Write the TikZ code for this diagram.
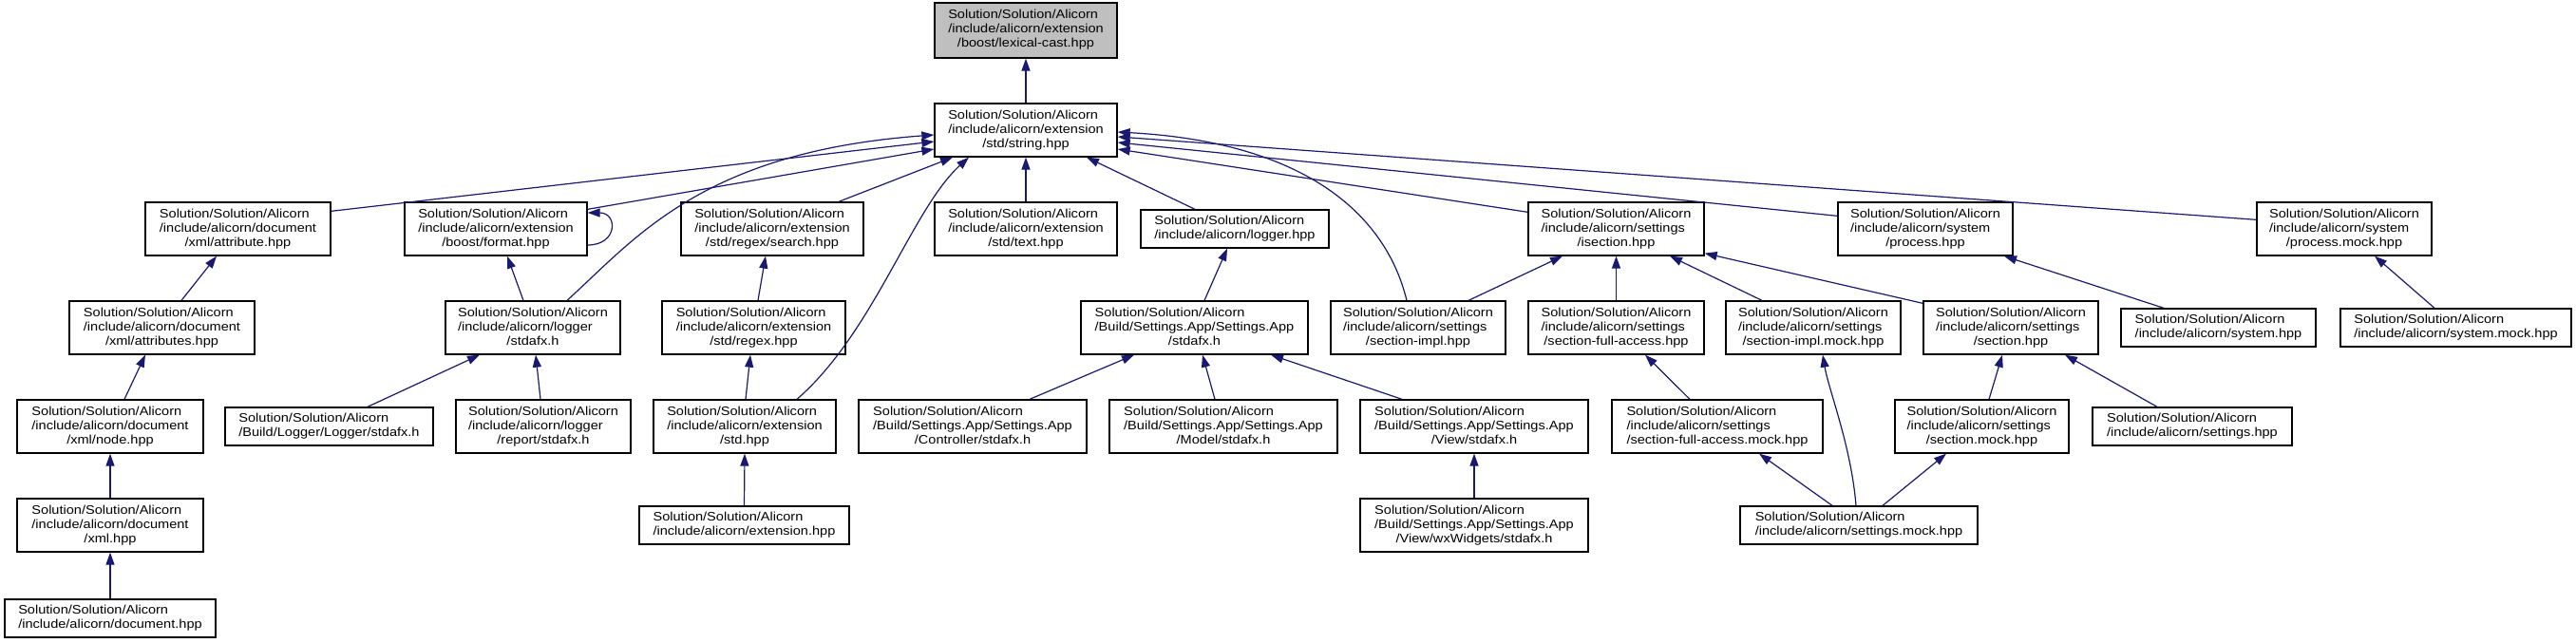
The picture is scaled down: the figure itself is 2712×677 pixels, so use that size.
\documentclass[tikz,border=0pt]{standalone}
\usepackage{fontspec}
\setmainfont{Liberation Sans}[FakeStretch=1.12]
\usetikzlibrary{arrows.meta,calc}
\definecolor{edgecol}{RGB}{25,25,112}
\definecolor{rootfill}{RGB}{191,191,191}
\newcommand\lblA[3]{\begin{tabular}{@{}l@{}}#1\\#2\\\multicolumn{1}{@{}c@{}}{#3}\end{tabular}}
\newcommand\lblB[2]{\begin{tabular}{@{}l@{}}#1\\\multicolumn{1}{@{}c@{}}{#2}\end{tabular}}
\tikzset{
  box/.style={draw=black, line width=1.3pt, fill=white, inner xsep=3pt, inner ysep=2pt, font=\fontsize{13}{15}\selectfont},
  three/.style={box, minimum height=56pt},
  two/.style={box, minimum height=40pt},
  dep/.style={draw=edgecol, line width=1.2pt, -{Triangle[length=13pt,width=9pt]}}
}
\def\SSA{Solution/Solution/Alicorn}
\begin{document}
\begin{tikzpicture}[x=1pt,y=-1pt]
\fill[white] (0,0) rectangle (2712,677);
\useasboundingbox (0,0) rectangle (2712,677);
% row 0 / 1
\node[three, fill=rootfill, minimum width=192pt, minimum height=58pt] (lex) at (1080,32) {\lblA{\SSA}{/include/alicorn/extension}{/boost/lexical-cast.hpp}};
\node[three, minimum width=192pt] (str) at (1080,137) {\lblA{\SSA}{/include/alicorn/extension}{/std/string.hpp}};
% row 2
\node[three, minimum width=195pt] (attr) at (250.5,241) {\lblA{\SSA}{/include/alicorn/document}{/xml/attribute.hpp}};
\node[three, minimum width=192pt] (fmt) at (522,241) {\lblA{\SSA}{/include/alicorn/extension}{/boost/format.hpp}};
\node[three, minimum width=192pt] (search) at (813,241) {\lblA{\SSA}{/include/alicorn/extension}{/std/regex/search.hpp}};
\node[three, minimum width=192pt] (text) at (1080,241) {\lblA{\SSA}{/include/alicorn/extension}{/std/text.hpp}};
\node[two, minimum width=198pt] (logger) at (1300,241) {\lblB{\SSA}{/include/alicorn/logger.hpp}};
\node[three, minimum width=185pt] (isec) at (1701.5,241) {\lblA{\SSA}{/include/alicorn/settings}{/isection.hpp}};
\node[three, minimum width=184pt] (proc) at (2027,241) {\lblA{\SSA}{/include/alicorn/system}{/process.hpp}};
\node[three, minimum width=184pt] (procm) at (2468,241) {\lblA{\SSA}{/include/alicorn/system}{/process.mock.hpp}};
% row 3
\node[three, minimum width=195pt] (attrs) at (170.5,345) {\lblA{\SSA}{/include/alicorn/document}{/xml/attributes.hpp}};
\node[three, minimum width=184pt] (lstd) at (561,345) {\lblA{\SSA}{/include/alicorn/logger}{/stdafx.h}};
\node[three, minimum width=193pt] (regex) at (793.5,345) {\lblA{\SSA}{/include/alicorn/extension}{/std/regex.hpp}};
\node[three, minimum width=239pt] (sa) at (1257.5,345) {\lblA{\SSA}{/Build/Settings.App/Settings.App}{/stdafx.h}};
\node[three, minimum width=184pt] (simpl) at (1493,345) {\lblA{\SSA}{/include/alicorn/settings}{/section-impl.hpp}};
\node[three, minimum width=185pt] (sfa) at (1701.5,345) {\lblA{\SSA}{/include/alicorn/settings}{/section-full-access.hpp}};
\node[three, minimum width=184pt] (simplm) at (1909,345) {\lblA{\SSA}{/include/alicorn/settings}{/section-impl.mock.hpp}};
\node[three, minimum width=184pt] (sec) at (2117,345) {\lblA{\SSA}{/include/alicorn/settings}{/section.hpp}};
\node[two, minimum width=205pt] (sys) at (2335.5,345) {\lblB{\SSA}{/include/alicorn/system.hpp}};
\node[two, minimum width=243pt] (sysm) at (2585.5,345) {\lblB{\SSA}{/include/alicorn/system.mock.hpp}};
% row 4
\node[three, minimum width=196pt] (xnode) at (116,449) {\lblA{\SSA}{/include/alicorn/document}{/xml/node.hpp}};
\node[two, minimum width=219pt] (blog) at (346.5,449) {\lblB{\SSA}{/Build/Logger/Logger/stdafx.h}};
\node[three, minimum width=184pt] (rep) at (572,449) {\lblA{\SSA}{/include/alicorn/logger}{/report/stdafx.h}};
\node[three, minimum width=192pt] (std) at (784,449) {\lblA{\SSA}{/include/alicorn/extension}{/std.hpp}};
\node[three, minimum width=240pt] (ctrl) at (1024,449) {\lblA{\SSA}{/Build/Settings.App/Settings.App}{/Controller/stdafx.h}};
\node[three, minimum width=240pt] (model) at (1288,449) {\lblA{\SSA}{/Build/Settings.App/Settings.App}{/Model/stdafx.h}};
\node[three, minimum width=240pt] (view) at (1552,449) {\lblA{\SSA}{/Build/Settings.App/Settings.App}{/View/stdafx.h}};
\node[three, minimum width=222pt] (sfam) at (1808,449) {\lblA{\SSA}{/include/alicorn/settings}{/section-full-access.mock.hpp}};
\node[three, minimum width=183pt] (secm) at (2086.5,449) {\lblA{\SSA}{/include/alicorn/settings}{/section.mock.hpp}};
\node[two, minimum width=210pt] (sets) at (2308,449) {\lblB{\SSA}{/include/alicorn/settings.hpp}};
% row 5
\node[three, minimum width=196pt] (xml) at (116,553) {\lblA{\SSA}{/include/alicorn/document}{/xml.hpp}};
\node[two, minimum width=221pt] (ext) at (783.5,553) {\lblB{\SSA}{/include/alicorn/extension.hpp}};
\node[three, minimum width=240pt] (wx) at (1552,553) {\lblA{\SSA}{/Build/Settings.App/Settings.App}{/View/wxWidgets/stdafx.h}};
\node[two, minimum width=250pt] (setm) at (1957,553) {\lblB{\SSA}{/include/alicorn/settings.mock.hpp}};
% row 6
\node[two, minimum width=222pt] (doc) at (116,651) {\lblB{\SSA}{/include/alicorn/document.hpp}};

% edges
\draw[dep] (str.north) -- (lex.south);
\draw[dep] ($(attr.north east)+(0,10)$) -- ($(str.west)+(0,12)$);
\draw[dep] ($(fmt.north east)+(0,8)$) -- ($(str.west)+(0,20)$);
\draw[dep] ($(fmt.east)+(0,17)$) .. controls ($(fmt.east)+(32,17)$) and ($(fmt.east)+(32,-17)$) .. ($(fmt.east)+(0,-17)$);
\draw[dep] ($(lstd.north)+(36,0)$) .. controls (670,250) and (740,160) .. ($(str.west)+(0,5)$);
\draw[dep] ($(search.north)+(70,0)$) -- ($(str.south)+(-77,0)$);
\draw[dep] (text.north) -- (str.south);
\draw[dep] ($(logger.north)+(-42,0)$) -- ($(str.south)+(64,0)$);
\draw[dep] ($(std.north)+(55,0)$) .. controls (920,350) and (960,220) .. ($(str.south)+(-60,0)$);
\draw[dep] ($(simpl.north)+(-12,0)$) .. controls (1460,230) and (1380,150) .. ($(str.east)+(0,2)$);
\draw[dep] ($(isec.north west)+(0,11)$) -- ($(str.east)+(0,20)$);
\draw[dep] ($(proc.north west)+(0,15)$) -- ($(str.east)+(0,13)$);
\draw[dep] ($(procm.north west)+(0,19)$) -- ($(str.east)+(0,7)$);
\draw[dep] ($(attrs.north)+(20.5,0)$) -- ($(attr.south)+(-22.5,0)$);
\draw[dep] ($(xnode.north)+(15,0)$) -- ($(attrs.south)+(-17.5,0)$);
\draw[dep] (xml.north) -- (xnode.south);
\draw[dep] (doc.north) -- (xml.south);
\draw[dep] ($(lstd.north)+(-10,0)$) -- ($(fmt.south)+(12,0)$);
\draw[dep] ($(blog.north)+(40.5,0)$) -- ($(lstd.south)+(-56,0)$);
\draw[dep] ($(rep.north)+(-3,0)$) -- ($(lstd.south)+(3,0)$);
\draw[dep] ($(regex.north)+(4.5,0)$) -- ($(search.south)+(-7,0)$);
\draw[dep] ($(std.north)+(1,0)$) -- ($(regex.south)+(-3.5,0)$);
\draw[dep] (ext.north) -- (std.south);
\draw[dep] ($(sa.north)+(10.5,0)$) -- ($(logger.south)+(-8,0)$);
\draw[dep] ($(ctrl.north)+(60,0)$) -- ($(sa.south)+(-63.5,0)$);
\draw[dep] ($(model.north)+(-9,0)$) -- ($(sa.south)+(8.5,0)$);
\draw[dep] ($(view.north)+(-76,0)$) -- ($(sa.south)+(80.5,0)$);
\draw[dep] (wx.north) -- (view.south);
\draw[dep] ($(simpl.north)+(53,0)$) -- ($(isec.south)+(-56.5,0)$);
\draw[dep] (sfa.north) -- (isec.south);
\draw[dep] ($(simplm.north)+(-54,0)$) -- ($(isec.south)+(56.5,0)$);
\draw[dep] ($(sec.north west)+(0,3)$) -- ($(isec.south east)+(0,-3)$);
\draw[dep] ($(sys.north)+(-57.5,0)$) -- ($(proc.south)+(83,0)$);
\draw[dep] ($(sysm.north)+(-22.5,0)$) -- ($(procm.south)+(32,0)$);
\draw[dep] ($(sfam.north)+(-29,0)$) -- ($(sfa.south)+(30.5,0)$);
\draw[dep] ($(setm.north)+(-28,0)$) -- ($(sfam.south)+(44,0)$);
\draw[dep] ($(setm.north)+(-3,0)$) .. controls (1949,470) and (1925,410) .. ($(simplm.south)+(10,0)$);
\draw[dep] ($(setm.north)+(25,0)$) -- ($(secm.south)+(-37.5,0)$);
\draw[dep] ($(secm.north)+(7.5,0)$) -- ($(sec.south)+(-9,0)$);
\draw[dep] ($(sets.north)+(-37,0)$) -- ($(sec.south)+(57,0)$);
\end{tikzpicture}
\end{document}
